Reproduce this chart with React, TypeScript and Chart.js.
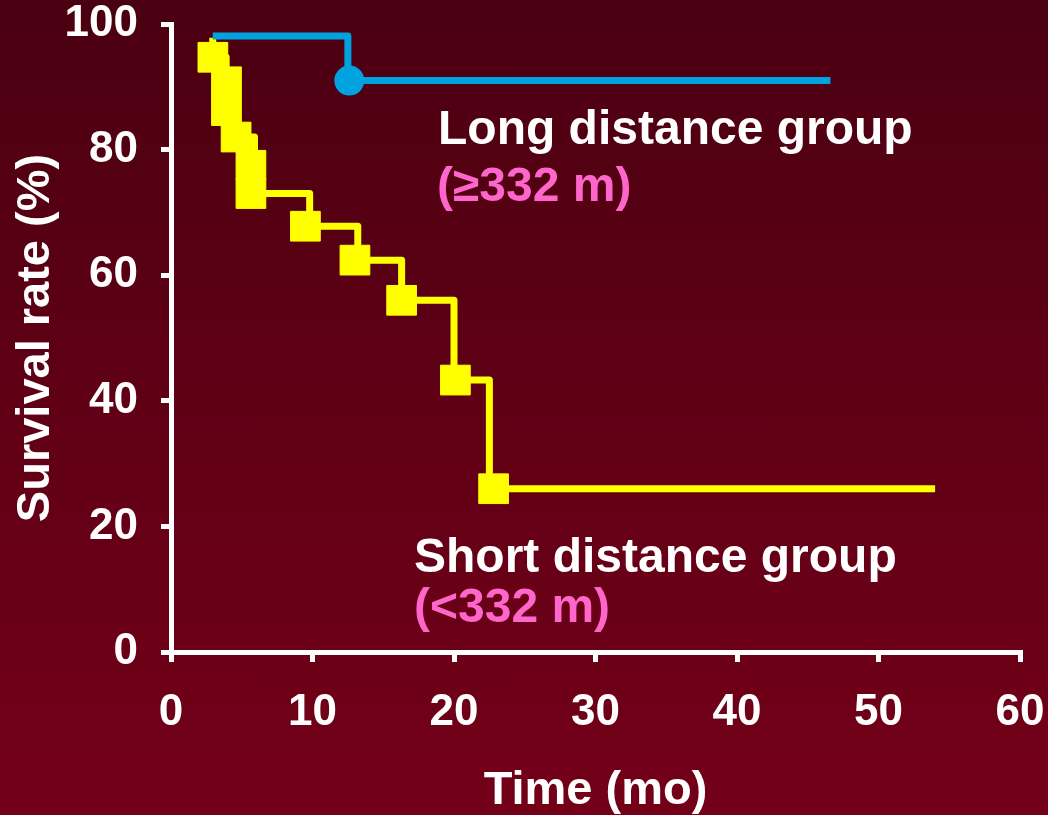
import React, { useEffect, useRef } from "react";
import { Chart, registerables } from "chart.js";

Chart.register(...registerables);

// Axis ticks
const xTicks = [0, 10, 20, 30, 40, 50, 60];
const yTicks = [0, 20, 40, 60, 80, 100];

// Long distance group (≥332 m): Kaplan–Meier step curve and censor mark
const longTimes = [2.95, 12.5, 46.6];
const longSurvival = [98.1, 91.0, 91.0];
const longMarkTimes = [12.6];
const longMarkSurvival = [91.0];

// Short distance group (<332 m): Kaplan–Meier step curve and event marks
const shortTimes = [2.95, 2.95, 3.9, 3.9, 4.6, 5.9, 5.9, 9.8, 13.2, 16.3, 20.0, 22.5, 54.0];
const shortSurvival = [97.8, 94.7, 90.8, 86.2, 82.0, 77.5, 73.0, 67.8, 62.4, 56.0, 43.3, 26.0, 26.0];
const shortMarkTimes = [2.96, 3.92, 3.92, 4.6, 5.65, 5.65, 9.5, 13.0, 16.3, 20.1, 22.8];
const shortMarkSurvival = [94.7, 90.8, 86.2, 82.0, 77.5, 73.0, 67.8, 62.4, 56.0, 43.3, 26.0];

const FONT = "'Liberation Sans', Arial, Helvetica, sans-serif";
const BLUE = "#00a3e0";
const YELLOW = "#ffff00";
const PINK = "#ff66cc";
const WHITE = "#ffffff";

const toPoints = (xs: number[], ys: number[]) => xs.map((x, i) => ({ x, y: ys[i] }));

// Group captions drawn next to the curves
const groupLabels = {
  id: "groupLabels",
  afterDatasetsDraw(chart: Chart) {
    const ctx = chart.ctx;
    const items = [
      { text: "Long distance group", x: 438, y: 144, color: WHITE },
      { text: "(≥332 m)", x: 437, y: 201, color: PINK },
      { text: "Short distance group", x: 414, y: 572, color: WHITE },
      { text: "(<332 m)", x: 414, y: 622, color: PINK },
    ];
    ctx.save();
    ctx.font = `bold 48px ${FONT}`;
    ctx.textAlign = "left";
    ctx.textBaseline = "alphabetic";
    for (const it of items) {
      ctx.fillStyle = it.color;
      ctx.fillText(it.text, it.x, it.y);
    }
    ctx.restore();
  },
};

// Keep the plot area fixed: no extra room reserved for overhanging tick labels
const noScalePadding = (s: any) => {
  s.paddingTop = 0;
  s.paddingBottom = 0;
  s.paddingLeft = 0;
  s.paddingRight = 0;
};

export default function App() {
  const canvasRef = useRef<HTMLCanvasElement | null>(null);

  useEffect(() => {
    document.body.style.margin = "0";
    const canvas = canvasRef.current;
    if (!canvas) return;

    const tickFont = { family: FONT, size: 44, weight: "bold" as const };
    const titleFont = { family: FONT, size: 47, weight: "bold" as const, lineHeight: 1 };

    const chart = new Chart(canvas, {
      type: "line",
      data: {
        datasets: [
          {
            label: "Long distance group (≥332 m)",
            data: toPoints(longTimes, longSurvival),
            stepped: true,
            borderColor: BLUE,
            borderWidth: 7,
            borderJoinStyle: "round",
            borderCapStyle: "butt",
            pointRadius: 0,
            fill: false,
            clip: false,
            order: 1,
          },
          {
            label: "Long distance censored",
            data: toPoints(longMarkTimes, longMarkSurvival),
            showLine: false,
            pointStyle: "circle",
            pointRadius: 14,
            pointBorderWidth: 2,
            pointBackgroundColor: BLUE,
            pointBorderColor: BLUE,
            clip: false,
            order: 0,
          },
          {
            label: "Short distance group (<332 m)",
            data: toPoints(shortTimes, shortSurvival),
            stepped: true,
            borderColor: YELLOW,
            borderWidth: 7,
            borderJoinStyle: "round",
            borderCapStyle: "butt",
            pointRadius: 0,
            fill: false,
            clip: false,
            order: 3,
          },
          {
            label: "Short distance events",
            data: toPoints(shortMarkTimes, shortMarkSurvival),
            showLine: false,
            pointStyle: "rect",
            pointRadius: 21,
            pointBorderWidth: 1,
            pointBackgroundColor: YELLOW,
            pointBorderColor: YELLOW,
            clip: false,
            order: 2,
          },
        ],
      },
      options: {
        responsive: false,
        animation: false,
        devicePixelRatio: 1,
        layout: {
          padding: { top: 24, right: 28, bottom: 0, left: 0 },
          autoPadding: false,
        } as any,
        plugins: {
          legend: { display: false },
          tooltip: { enabled: false },
        },
        scales: {
          x: {
            type: "linear",
            min: 0,
            max: 60,
            afterFit: (s: any) => {
              s.height = 163;
              noScalePadding(s);
            },
            afterBuildTicks: (s: any) => {
              s.ticks = xTicks.map((v) => ({ value: v }));
            },
            ticks: {
              color: WHITE,
              font: tickFont,
              padding: 24,
              maxRotation: 0,
              autoSkip: false,
            },
            grid: {
              drawOnChartArea: false,
              drawTicks: true,
              tickLength: 10,
              color: WHITE,
              lineWidth: 5,
            },
            border: { display: true, color: WHITE, width: 5 },
            title: {
              display: true,
              text: "Time (mo)",
              color: WHITE,
              font: titleFont,
              padding: { top: 0, bottom: 0 },
            },
          },
          y: {
            type: "linear",
            min: 0,
            max: 100,
            afterFit: (s: any) => {
              s.width = 171;
              noScalePadding(s);
            },
            afterBuildTicks: (s: any) => {
              s.ticks = yTicks.map((v) => ({ value: v }));
            },
            ticks: {
              color: WHITE,
              font: tickFont,
              padding: 23,
              autoSkip: false,
            },
            grid: {
              drawOnChartArea: false,
              drawTicks: true,
              tickLength: 10,
              color: WHITE,
              lineWidth: 5,
            },
            border: { display: true, color: WHITE, width: 5 },
            title: {
              display: true,
              text: "Survival rate (%)",
              color: WHITE,
              font: titleFont,
              padding: { top: 13, bottom: 0 },
            },
          },
        },
      },
      plugins: [groupLabels],
    });

    return () => chart.destroy();
  }, []);

  return (
    <div
      style={{
        position: "absolute",
        left: 0,
        top: 0,
        width: 1048,
        height: 815,
        background: "linear-gradient(to bottom, #4a0011 0%, #5e0015 45%, #730018 100%)",
        overflow: "hidden",
      }}
    >
      <canvas ref={canvasRef} width={1048} height={815} style={{ display: "block" }} />
    </div>
  );
}
